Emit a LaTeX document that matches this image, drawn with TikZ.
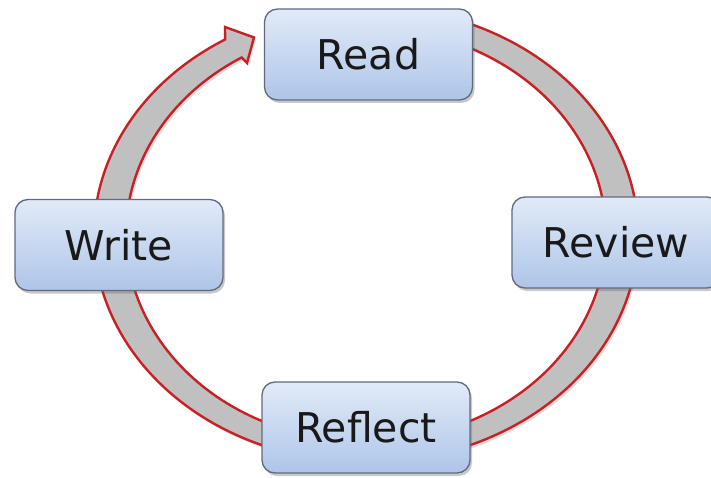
\documentclass[tikz,border=0pt]{standalone}
\usepackage{fontspec}
\newfontfamily\dejavu{DejaVu Sans}
\usetikzlibrary{shadows}
\definecolor{ringred}{RGB}{200,32,36}
\definecolor{ringgray}{RGB}{192,192,192}
\definecolor{boxtop}{RGB}{226,234,248}
\definecolor{boxbot}{RGB}{174,197,232}
\definecolor{boxline}{RGB}{96,106,124}
\tikzset{
  stagebox/.style={draw=boxline, line width=1.3pt, rounded corners=13pt,
    top color=boxtop, bottom color=boxbot,
    minimum width=208pt, minimum height=91pt, inner sep=0pt,
    font={\dejavu\fontsize{41}{49}\selectfont}, text=black!90,
    drop shadow={shadow xshift=2pt, shadow yshift=-3pt, opacity=0.35, fill=black!60}},
  ringarrow/.style={draw=ringred, line width=2.4pt, fill=ringgray, line join=miter,
    drop shadow={shadow xshift=2pt, shadow yshift=-3pt, opacity=0.25, fill=black!50}}
}
\begin{document}
\begin{tikzpicture}[x=1pt,y=1pt]
\fill[white] (0,0) rectangle (711,477);
\useasboundingbox (0,0) rectangle (711,477);
% circular arrow
\begin{scope}[shift={(366,242.5)}]
\draw[ringarrow] (70:272pt and 228pt)
  arc[start angle=70, end angle=-238.8, x radius=272pt, y radius=228pt]
  -- (-141,207.5) -- (-112,197) -- (-119,171.5)
  -- (-238.8:240pt and 207pt)
  arc[start angle=-238.8, end angle=70, x radius=240pt, y radius=207pt]
  -- cycle;
\end{scope}
% stages
\node[stagebox] (read) at (368.5,422.5) {Read};
\node[stagebox] (review) at (616,234.5) {Review};
\node[stagebox] (reflect) at (366,49.5) {Reflect};
\node[stagebox] (write) at (119,232) {Write};
\end{tikzpicture}
\end{document}
